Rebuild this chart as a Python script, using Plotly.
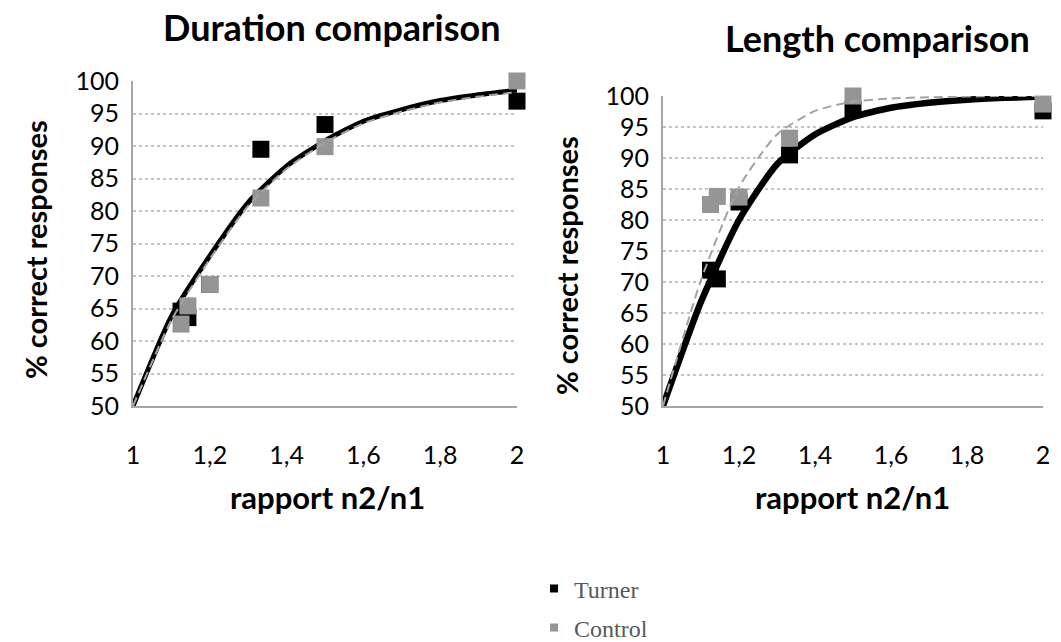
import plotly.graph_objects as go

# ---------------- data ----------------
ratio_pts = [1.125, 1.143, 1.2, 1.333, 1.5, 2.0]

dur_turner = [64.6, 63.6, 68.7, 89.5, 93.3, 96.9]
dur_control = [62.6, 65.4, 68.7, 82.0, 89.9, 100.0]

len_turner = [71.9, 70.5, 82.9, 90.5, 97.9, 97.6]
len_control = [82.5, 83.8, 83.7, 93.2, 100.0, 98.7]

curve_x = [1.0, 1.1, 1.2, 1.3, 1.4, 1.5, 1.6, 1.7, 1.8, 1.9, 2.0]
dur_turner_fit = [50, 63.8, 73.1, 81.3, 86.9, 90.8, 93.8, 95.6, 97.0, 97.9, 98.6]
dur_control_fit = [50, 63.2, 72.6, 80.8, 86.5, 90.5, 93.5, 95.3, 96.7, 97.6, 98.3]
len_turner_fit = [50, 66.8, 80.0, 89.0, 93.8, 96.6, 98.1, 98.9, 99.4, 99.7, 99.9]
len_control_fit = [50, 70.3, 85.3, 93.8, 97.6, 99.1, 99.6, 99.8, 99.9, 100.0, 100.0]

x_tickvals = [1.0, 1.2, 1.4, 1.6, 1.8, 2.0]
x_ticktext = ["1", "1,2", "1,4", "1,6", "1,8", "2"]
y_tickvals = list(range(50, 101, 5))

titles = ["Duration comparison", "Length comparison"]
y_title = "% correct responses"
x_title = "rapport n2/n1"
series_names = ["Turner", "Control"]

# ---------------- style ----------------
W, H = 1061, 642
BLACK = "#000000"
GREY = "#959595"
DASH_GREY = "#a3a3a3"
AXIS_GREY = "#a6a6a6"
GRID_GREY = "#c4c4c4"
FONT = "Lato"

fig = go.Figure()

panels = [
    dict(xa="x", ya="y", t=dur_turner, c=dur_control, tf=dur_turner_fit, cf=dur_control_fit, lw=5),
    dict(xa="x2", ya="y2", t=len_turner, c=len_control, tf=len_turner_fit, cf=len_control_fit, lw=6.5),
]

for p in panels:
    fig.add_trace(go.Scatter(x=ratio_pts, y=p["t"], mode="markers", xaxis=p["xa"], yaxis=p["ya"],
                             marker=dict(symbol="square", size=17, color=BLACK),
                             showlegend=False, cliponaxis=False))
    fig.add_trace(go.Scatter(x=curve_x, y=p["tf"], mode="lines", xaxis=p["xa"], yaxis=p["ya"],
                             line=dict(color=BLACK, width=p["lw"], shape="spline", smoothing=0.6),
                             showlegend=False, cliponaxis=False))
    fig.add_trace(go.Scatter(x=ratio_pts, y=p["c"], mode="markers", xaxis=p["xa"], yaxis=p["ya"],
                             marker=dict(symbol="square", size=17, color=GREY),
                             showlegend=False, cliponaxis=False))
    fig.add_trace(go.Scatter(x=curve_x, y=p["cf"], mode="lines", xaxis=p["xa"], yaxis=p["ya"],
                             line=dict(color=DASH_GREY, width=2, dash="9px,5px", shape="spline", smoothing=0.6),
                             showlegend=False, cliponaxis=False))

# legend entries (two separate legends for precise placement)
fig.add_trace(go.Scatter(x=[None], y=[None], mode="markers", name=series_names[0],
                         marker=dict(symbol="square", size=8, color=BLACK), legend="legend"))
fig.add_trace(go.Scatter(x=[None], y=[None], mode="markers", name=series_names[1],
                         marker=dict(symbol="square", size=8, color=GREY), legend="legend2"))

def px_x(v):
    return v / W

def px_y(v):
    return 1 - v / H

common_x = dict(range=[1, 2], tickvals=x_tickvals, ticktext=x_ticktext, showgrid=False,
                zeroline=False, showline=True, linecolor=AXIS_GREY, linewidth=2,
                ticks="", ticklabelstandoff=26, tickfont=dict(family=FONT, size=25, color="#000"),
                fixedrange=True, automargin=False)
common_y = dict(range=[50, 100], tickvals=y_tickvals, showgrid=True, gridcolor=GRID_GREY,
                gridwidth=2, griddash="dot", zeroline=False, showline=True, linecolor=AXIS_GREY,
                linewidth=2, ticks="", ticklabelstandoff=7,
                tickfont=dict(family=FONT, size=25, color="#000"), fixedrange=True, automargin=False)

legend_font = dict(family="Liberation Serif", size=24, color="#595959")

fig.update_layout(
    width=W, height=H,
    margin=dict(l=0, r=0, t=0, b=0, autoexpand=False),
    paper_bgcolor="white", plot_bgcolor="white",
    xaxis=dict(domain=[px_x(133), px_x(517)], anchor="y", **common_x),
    yaxis=dict(domain=[px_y(406), px_y(81)], anchor="x", **common_y),
    xaxis2=dict(domain=[px_x(663), px_x(1043)], anchor="y2", **common_x),
    yaxis2=dict(domain=[px_y(406), px_y(96)], anchor="x2", **common_y),
    legend=dict(x=px_x(534), y=px_y(589), xanchor="left", yanchor="middle",
                font=legend_font, bgcolor="rgba(0,0,0,0)", borderwidth=0),
    legend2=dict(x=px_x(534), y=px_y(628), xanchor="left", yanchor="middle",
                 font=legend_font, bgcolor="rgba(0,0,0,0)", borderwidth=0),
    showlegend=True,
)

annos = [
    dict(text=f"<b>{titles[0]}</b>", x=px_x(332), y=px_y(27), size=36, angle=0),
    dict(text=f"<b>{titles[1]}</b>", x=px_x(877), y=px_y(38), size=36, angle=0),
    dict(text=f"<b>{y_title}</b>", x=px_x(36), y=px_y(250), size=29, angle=-90),
    dict(text=f"<b>{y_title}</b>", x=px_x(567), y=px_y(266), size=29, angle=-90),
    dict(text=f"<b>{x_title}</b>", x=px_x(327), y=px_y(497), size=31, angle=0),
    dict(text=f"<b>{x_title}</b>", x=px_x(852), y=px_y(497), size=31, angle=0),
]
for a in annos:
    fig.add_annotation(text=a["text"], x=a["x"], y=a["y"], xref="paper", yref="paper",
                       xanchor="center", yanchor="middle", showarrow=False, textangle=a["angle"],
                       font=dict(family=FONT, size=a["size"], color="#000"))

fig.write_html("out.html", config={"displayModeBar": False},
               post_script="document.body.style.margin='0';document.body.style.overflow='hidden';")
